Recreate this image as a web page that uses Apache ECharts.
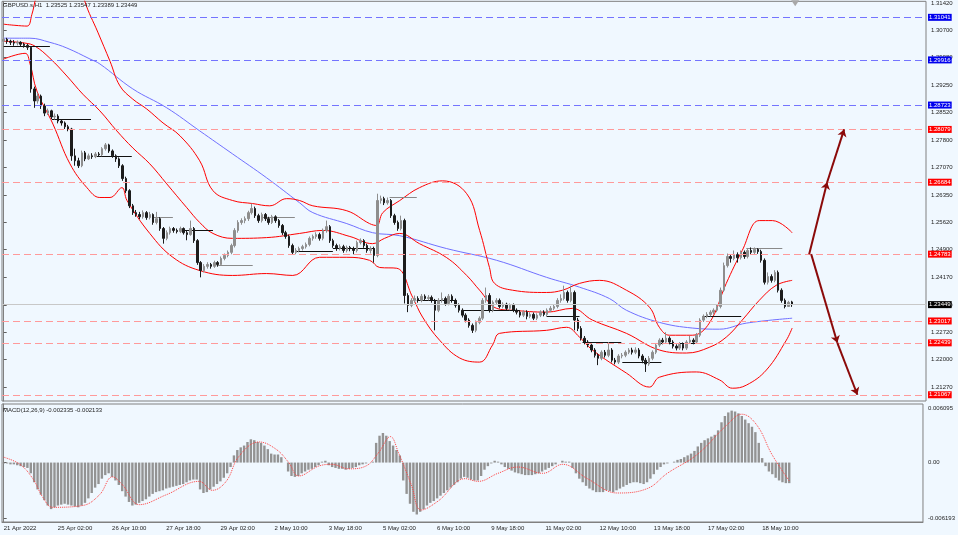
<!DOCTYPE html>
<html><head><meta charset="utf-8">
<script src="https://cdn.jsdelivr.net/npm/echarts@6/dist/echarts.min.js"></script>
<style>html,body{margin:0;padding:0;background:#f0f8ff;}#c{width:958px;height:535px;}</style>
</head><body><div id="c"></div>
<script>
// ---------- data ----------
const SLOTS = 272; // 2-hour bar slots across the window (incl. right shift)
const xTickLabels = ['21 Apr 2022','25 Apr 02:00','26 Apr 10:00','27 Apr 18:00','29 Apr 02:00','2 May 10:00','3 May 18:00','5 May 02:00','6 May 10:00','9 May 18:00','11 May 02:00','12 May 10:00','13 May 18:00','17 May 02:00','18 May 10:00'];
const priceTicks = [1.3142,1.3070,1.2998,1.2925,1.2852,1.2780,1.2707,1.2635,1.2562,1.2490,1.2417,1.2344,1.2272,1.2200,1.2127];
const macdTicks = [0.006095, 0, -0.006193];
const blueLevels = [1.31041, 1.29916, 1.28723];
const redLevels = [1.28079, 1.26684, 1.24783, 1.23017, 1.22439, 1.21067];
const lastPrice = 1.23449;
const headerText = 'GBPUSD.s,H1  1.23525 1.23547 1.23389 1.23449';
const macdText = 'MACD(12,26,9) -0.002335 -0.002133';

// [open, close, low, high] per 2-hour bar
const ohlc = [
[1.3041,1.3046,1.3036,1.3054],[1.3046,1.3041,1.3034,1.3050],[1.3041,1.3038,1.3031,1.3045],[1.3038,1.3036,1.3029,1.3044],[1.3036,1.3038,1.3030,1.3043],[1.3038,1.3033,1.3027,1.3041],[1.3033,1.3030,1.3024,1.3037],[1.3030,1.3025,1.3018,1.3034],[1.3025,1.2915,1.2905,1.3028],[1.2915,1.2883,1.2865,1.2921],
[1.2883,1.2896,1.2876,1.2905],[1.2896,1.2870,1.2862,1.2900],[1.2870,1.2851,1.2843,1.2876],[1.2851,1.2857,1.2846,1.2863],[1.2857,1.2841,1.2835,1.2860],[1.2841,1.2843,1.2834,1.2850],[1.2843,1.2830,1.2824,1.2848],[1.2830,1.2825,1.2818,1.2834],[1.2825,1.2815,1.2809,1.2829],[1.2815,1.2809,1.2803,1.2820],
[1.2809,1.2738,1.2725,1.2812],[1.2738,1.2725,1.2712,1.2757],[1.2725,1.2712,1.2706,1.2733],[1.2712,1.2746,1.2708,1.2752],[1.2746,1.2730,1.2724,1.2751],[1.2730,1.2738,1.2727,1.2744],[1.2738,1.2736,1.2730,1.2745],[1.2736,1.2743,1.2732,1.2748],[1.2743,1.2741,1.2735,1.2748],[1.2741,1.2757,1.2737,1.2761],
[1.2757,1.2767,1.2752,1.2772],[1.2767,1.2751,1.2746,1.2770],[1.2751,1.2738,1.2733,1.2755],[1.2738,1.2730,1.2722,1.2742],[1.2730,1.2712,1.2706,1.2734],[1.2712,1.2678,1.2672,1.2716],[1.2678,1.2646,1.2640,1.2683],[1.2646,1.2606,1.2600,1.2650],[1.2606,1.2588,1.2582,1.2611],[1.2588,1.2583,1.2577,1.2595],
[1.2583,1.2577,1.2571,1.2590],[1.2577,1.2588,1.2572,1.2594],[1.2588,1.2575,1.2569,1.2592],[1.2575,1.2583,1.2570,1.2590],[1.2583,1.2562,1.2556,1.2586],[1.2562,1.2572,1.2557,1.2590],[1.2572,1.2546,1.2540,1.2576],[1.2546,1.2520,1.2506,1.2550],[1.2520,1.2535,1.2515,1.2541],[1.2535,1.2546,1.2530,1.2551],
[1.2546,1.2541,1.2535,1.2550],[1.2541,1.2538,1.2533,1.2546],[1.2538,1.2546,1.2534,1.2551],[1.2546,1.2535,1.2530,1.2549],[1.2535,1.2530,1.2515,1.2540],[1.2530,1.2546,1.2527,1.2567],[1.2546,1.2514,1.2508,1.2550],[1.2514,1.2456,1.2450,1.2518],[1.2456,1.2435,1.2417,1.2460],[1.2435,1.2446,1.2430,1.2452],
[1.2446,1.2451,1.2440,1.2457],[1.2451,1.2446,1.2440,1.2455],[1.2446,1.2456,1.2442,1.2461],[1.2456,1.2451,1.2445,1.2460],[1.2451,1.2467,1.2447,1.2472],[1.2467,1.2475,1.2462,1.2480],[1.2475,1.2483,1.2470,1.2488],[1.2483,1.2501,1.2478,1.2506],[1.2501,1.2541,1.2496,1.2547],[1.2541,1.2562,1.2535,1.2568],
[1.2562,1.2567,1.2556,1.2573],[1.2567,1.2572,1.2560,1.2578],[1.2572,1.2588,1.2566,1.2593],[1.2588,1.2599,1.2583,1.2612],[1.2599,1.2580,1.2574,1.2604],[1.2580,1.2567,1.2561,1.2585],[1.2567,1.2583,1.2562,1.2588],[1.2583,1.2572,1.2566,1.2587],[1.2572,1.2562,1.2556,1.2577],[1.2562,1.2577,1.2558,1.2582],
[1.2577,1.2567,1.2561,1.2581],[1.2567,1.2554,1.2548,1.2571],[1.2554,1.2535,1.2529,1.2558],[1.2535,1.2525,1.2519,1.2540],[1.2525,1.2501,1.2495,1.2530],[1.2501,1.2483,1.2477,1.2506],[1.2483,1.2488,1.2478,1.2494],[1.2488,1.2493,1.2483,1.2498],[1.2493,1.2498,1.2488,1.2503],[1.2498,1.2504,1.2493,1.2509],
[1.2504,1.2520,1.2499,1.2525],[1.2520,1.2525,1.2514,1.2530],[1.2525,1.2530,1.2519,1.2536],[1.2530,1.2520,1.2514,1.2535],[1.2520,1.2541,1.2515,1.2546],[1.2541,1.2551,1.2535,1.2567],[1.2551,1.2514,1.2508,1.2555],[1.2514,1.2501,1.2495,1.2519],[1.2501,1.2493,1.2487,1.2506],[1.2493,1.2498,1.2488,1.2504],
[1.2498,1.2488,1.2482,1.2503],[1.2488,1.2496,1.2483,1.2501],[1.2496,1.2493,1.2486,1.2500],[1.2493,1.2488,1.2478,1.2498],[1.2488,1.2509,1.2483,1.2514],[1.2509,1.2514,1.2504,1.2520],[1.2514,1.2501,1.2495,1.2518],[1.2501,1.2488,1.2482,1.2506],[1.2488,1.2493,1.2480,1.2499],[1.2493,1.2475,1.2456,1.2498],
[1.2475,1.2620,1.2470,1.2638],[1.2620,1.2625,1.2612,1.2633],[1.2625,1.2614,1.2608,1.2630],[1.2614,1.2620,1.2609,1.2628],[1.2620,1.2580,1.2574,1.2624],[1.2580,1.2562,1.2556,1.2585],[1.2562,1.2546,1.2540,1.2567],[1.2546,1.2567,1.2541,1.2580],[1.2567,1.2369,1.2348,1.2572],[1.2369,1.2343,1.2325,1.2375],
[1.2343,1.2356,1.2338,1.2362],[1.2356,1.2361,1.2350,1.2369],[1.2361,1.2356,1.2350,1.2367],[1.2356,1.2367,1.2351,1.2373],[1.2367,1.2361,1.2355,1.2372],[1.2361,1.2364,1.2356,1.2370],[1.2364,1.2356,1.2350,1.2369],[1.2356,1.2330,1.2277,1.2360],[1.2330,1.2356,1.2325,1.2362],[1.2356,1.2361,1.2350,1.2377],
[1.2361,1.2348,1.2342,1.2366],[1.2348,1.2367,1.2343,1.2373],[1.2367,1.2356,1.2350,1.2372],[1.2356,1.2343,1.2337,1.2361],[1.2343,1.2330,1.2324,1.2348],[1.2330,1.2317,1.2311,1.2335],[1.2317,1.2304,1.2298,1.2322],[1.2304,1.2290,1.2284,1.2309],[1.2290,1.2277,1.2270,1.2295],[1.2277,1.2298,1.2272,1.2303],
[1.2298,1.2309,1.2293,1.2314],[1.2309,1.2356,1.2304,1.2362],[1.2356,1.2369,1.2350,1.2390],[1.2369,1.2330,1.2324,1.2375],[1.2330,1.2351,1.2325,1.2356],[1.2351,1.2356,1.2346,1.2362],[1.2356,1.2340,1.2335,1.2361],[1.2340,1.2346,1.2335,1.2351],[1.2346,1.2335,1.2330,1.2350],[1.2335,1.2343,1.2330,1.2348],
[1.2343,1.2330,1.2325,1.2348],[1.2330,1.2325,1.2319,1.2335],[1.2325,1.2317,1.2311,1.2330],[1.2317,1.2325,1.2312,1.2330],[1.2325,1.2314,1.2306,1.2330],[1.2314,1.2319,1.2309,1.2325],[1.2319,1.2309,1.2304,1.2324],[1.2309,1.2317,1.2304,1.2322],[1.2317,1.2325,1.2312,1.2330],[1.2325,1.2319,1.2314,1.2330],
[1.2319,1.2330,1.2314,1.2335],[1.2330,1.2335,1.2325,1.2341],[1.2335,1.2340,1.2330,1.2346],[1.2340,1.2356,1.2335,1.2362],[1.2356,1.2361,1.2350,1.2372],[1.2361,1.2377,1.2356,1.2395],[1.2377,1.2356,1.2350,1.2382],[1.2356,1.2377,1.2351,1.2395],[1.2377,1.2304,1.2277,1.2382],[1.2304,1.2282,1.2275,1.2310],
[1.2282,1.2256,1.2250,1.2288],[1.2256,1.2246,1.2240,1.2262],[1.2246,1.2238,1.2232,1.2251],[1.2238,1.2225,1.2219,1.2243],[1.2225,1.2211,1.2205,1.2230],[1.2211,1.2203,1.2185,1.2216],[1.2203,1.2219,1.2198,1.2224],[1.2219,1.2211,1.2205,1.2225],[1.2211,1.2225,1.2206,1.2246],[1.2225,1.2198,1.2192,1.2230],
[1.2198,1.2193,1.2187,1.2204],[1.2193,1.2209,1.2188,1.2214],[1.2209,1.2211,1.2203,1.2217],[1.2211,1.2219,1.2206,1.2224],[1.2219,1.2225,1.2214,1.2230],[1.2225,1.2219,1.2213,1.2231],[1.2219,1.2225,1.2214,1.2232],[1.2225,1.2209,1.2203,1.2230],[1.2209,1.2198,1.2190,1.2214],[1.2198,1.2188,1.2167,1.2204],
[1.2188,1.2203,1.2183,1.2209],[1.2203,1.2219,1.2198,1.2224],[1.2219,1.2238,1.2214,1.2243],[1.2238,1.2251,1.2233,1.2256],[1.2251,1.2246,1.2240,1.2257],[1.2246,1.2256,1.2241,1.2272],[1.2256,1.2246,1.2240,1.2261],[1.2246,1.2235,1.2229,1.2251],[1.2235,1.2230,1.2224,1.2240],[1.2230,1.2240,1.2225,1.2246],
[1.2240,1.2230,1.2224,1.2245],[1.2230,1.2246,1.2225,1.2251],[1.2246,1.2251,1.2241,1.2262],[1.2251,1.2246,1.2240,1.2256],[1.2246,1.2264,1.2241,1.2270],[1.2264,1.2304,1.2259,1.2309],[1.2304,1.2314,1.2299,1.2319],[1.2314,1.2319,1.2309,1.2325],[1.2319,1.2325,1.2314,1.2330],[1.2325,1.2330,1.2319,1.2335],
[1.2330,1.2340,1.2325,1.2346],[1.2340,1.2383,1.2335,1.2390],[1.2383,1.2448,1.2378,1.2456],[1.2448,1.2472,1.2443,1.2480],[1.2472,1.2467,1.2456,1.2478],[1.2467,1.2477,1.2462,1.2488],[1.2477,1.2469,1.2456,1.2483],[1.2469,1.2483,1.2464,1.2488],[1.2483,1.2472,1.2466,1.2488],[1.2472,1.2488,1.2467,1.2493],
[1.2488,1.2483,1.2477,1.2496],[1.2483,1.2491,1.2478,1.2496],[1.2491,1.2485,1.2479,1.2494],[1.2485,1.2462,1.2456,1.2490],[1.2462,1.2404,1.2398,1.2467],[1.2404,1.2419,1.2398,1.2430],[1.2419,1.2409,1.2403,1.2425],[1.2409,1.2430,1.2404,1.2436],[1.2430,1.2383,1.2377,1.2435],[1.2383,1.2356,1.2350,1.2388],
[1.2356,1.2340,1.2335,1.2361],[1.2340,1.2351,1.2339,1.2355],[1.2352,1.2345,1.2339,1.2355]
];

// MACD main (histogram), one per bar
const macdHist = [
-0.0001,-0.0001,-0.0002,-0.0002,-0.0003,-0.0004,-0.0005,-0.0006,-0.0012,-0.0022,
-0.0030,-0.0036,-0.0042,-0.0048,-0.0052,-0.0050,-0.0048,-0.0047,-0.0046,-0.0047,
-0.0048,-0.0049,-0.0050,-0.0048,-0.0045,-0.0040,-0.0034,-0.0028,-0.0024,-0.0018,
-0.0014,-0.0012,-0.0016,-0.0020,-0.0025,-0.0032,-0.0038,-0.0044,-0.0048,-0.0047,
-0.0045,-0.0043,-0.0041,-0.0038,-0.0035,-0.0033,-0.0032,-0.0031,-0.0029,-0.0028,
-0.0027,-0.0026,-0.0025,-0.0024,-0.0022,-0.0020,-0.0019,-0.0019,-0.0030,-0.0034,
-0.0033,-0.0030,-0.0027,-0.0024,-0.0021,-0.0017,-0.0012,-0.0005,0.0008,0.0014,
0.0017,0.0019,0.0023,0.0026,0.0025,0.0023,0.0022,0.0019,0.0015,0.0010,
0.0009,0.0009,0.0006,0.0000,-0.0010,-0.0015,-0.0016,-0.0015,-0.0012,-0.0010,
-0.0008,-0.0007,-0.0005,-0.0003,0.0001,0.0002,-0.0003,-0.0005,-0.0006,-0.0007,
-0.0007,-0.0008,-0.0007,-0.0006,-0.0005,-0.0003,-0.0002,-0.0001,0.0000,0.0001,
0.0022,0.0030,0.0033,0.0030,0.0024,0.0019,0.0014,0.0008,-0.0020,-0.0035,
-0.0046,-0.0055,-0.0058,-0.0055,-0.0052,-0.0048,-0.0045,-0.0043,-0.0040,-0.0037,
-0.0034,-0.0031,-0.0028,-0.0025,-0.0022,-0.0018,-0.0016,-0.0017,-0.0019,-0.0020,
-0.0020,-0.0015,-0.0008,-0.0004,-0.0001,0.0002,0.0001,-0.0002,-0.0005,-0.0007,
-0.0009,-0.0011,-0.0012,-0.0013,-0.0014,-0.0014,-0.0014,-0.0013,-0.0012,-0.0010,
-0.0008,-0.0006,-0.0004,-0.0002,0.0000,0.0002,0.0001,0.0001,-0.0006,-0.0012,
-0.0018,-0.0022,-0.0026,-0.0029,-0.0031,-0.0033,-0.0033,-0.0033,-0.0031,-0.0032,
-0.0033,-0.0031,-0.0029,-0.0027,-0.0025,-0.0023,-0.0022,-0.0022,-0.0023,-0.0024,
-0.0022,-0.0018,-0.0013,-0.0008,-0.0005,-0.0002,-0.0001,0.0000,0.0001,0.0003,
0.0004,0.0006,0.0008,0.0010,0.0013,0.0018,0.0022,0.0025,0.0027,0.0029,
0.0031,0.0036,0.0045,0.0052,0.0056,0.0058,0.0057,0.0055,0.0052,0.0048,
0.0044,0.0040,0.0034,0.0022,0.0005,-0.0004,-0.0010,-0.0013,-0.0017,-0.0020,
-0.0022,-0.0023,-0.0023
];

// MACD signal line, [bar, value]
const macdSignal = [[0,0.0006],[4.8,-0.0002],[8.6,-0.0018],[11.6,-0.0039],[14.5,-0.0050],[23.3,-0.0048],[28.3,-0.0036],[32.1,-0.0016],[35.1,-0.0025],[40.1,-0.0047],[48,-0.0036],[57.7,-0.0021],[61.6,-0.0031],[65.7,-0.0021],[69.5,0.0007],[75.4,0.0023],[80.4,0.0015],[84.2,0.0000],[87.1,-0.0015],[93,-0.0004],[96.9,-0.0002],[101.9,-0.0007],[106.9,-0.0004],[110.7,0.0011],[114.2,0.0029],[116.6,0.0011],[120.4,-0.0025],[123.3,-0.0053],[128.3,-0.0043],[136.3,-0.0018],[140.1,-0.0021],[146,-0.0012],[151.9,-0.0005],[159.2,-0.0012],[165.1,-0.0002],[172.4,-0.0018],[181.3,-0.0034],[190.1,-0.0029],[196,-0.0012],[204.8,0.0009],[213.6,0.0042],[218,0.0054],[222.4,0.0042],[226.9,0.0009],[232.1,-0.0021]];

// Bollinger bands and moving average, [bar, price]
const bbUpper = [[0,1.3086],[3.3,1.3083],[6.9,1.3081],[8.3,1.3112],[9.2,1.3146],[12.1,1.3252],[16.6,1.3331],[21,1.3252],[23.9,1.3146],[27.7,1.3065],[31.3,1.2988],[34.2,1.2923],[38,1.2888],[42.1,1.2862],[46.9,1.2825],[51.9,1.2791],[57.7,1.2725],[61.6,1.2646],[67.4,1.2620],[73.3,1.2612],[78.3,1.2606],[83.3,1.2625],[87.1,1.2620],[91,1.2606],[101,1.2593],[107.7,1.2559],[109.8,1.2554],[111.6,1.2588],[116.6,1.2620],[122.4,1.2654],[129.2,1.2672],[136.3,1.2638],[140.1,1.2541],[143,1.2443],[144.5,1.2401],[149.8,1.2383],[159.8,1.2377],[164.5,1.2383],[169.5,1.2401],[175.4,1.2409],[183.3,1.2383],[190.1,1.2338],[193,1.2285],[196,1.2264],[202.7,1.2264],[207.7,1.2296],[212.7,1.2401],[217.4,1.2488],[222.4,1.2567],[226.3,1.2567],[232.1,1.2535]];
const bbMiddle = [[0,1.3041],[6.3,1.3036],[9.2,1.3028],[13.6,1.2996],[18.6,1.2949],[23.3,1.2901],[28.3,1.2857],[33.3,1.2804],[38,1.2759],[43,1.2717],[48,1.2664],[53.9,1.2601],[57.7,1.2562],[61.6,1.2533],[67.4,1.2520],[77.4,1.2522],[87.1,1.2533],[93.9,1.2541],[101.9,1.2525],[108.6,1.2506],[112.1,1.2520],[116.6,1.2533],[122.4,1.2506],[130.4,1.2469],[136.3,1.2422],[140.1,1.2383],[145.1,1.2335],[149.8,1.2330],[159.8,1.2325],[167.4,1.2335],[173.3,1.2304],[183.3,1.2269],[193,1.2225],[201,1.2217],[207.7,1.2232],[212.7,1.2259],[217.4,1.2304],[222.4,1.2356],[227.4,1.2396],[232.1,1.2409]];
const bbLower = [[0,1.2994],[6.3,1.3009],[7.7,1.2983],[9.8,1.2909],[14.5,1.2822],[19.5,1.2717],[24.5,1.2654],[28.3,1.2628],[31.3,1.2628],[34.8,1.2654],[36.3,1.2620],[43,1.2533],[49.8,1.2470],[57.7,1.2435],[67.4,1.2422],[77.4,1.2427],[85.1,1.2422],[93,1.2470],[101,1.2470],[107.7,1.2462],[110.7,1.2443],[115.7,1.2441],[120.4,1.2364],[123.3,1.2312],[128.3,1.2251],[134.2,1.2204],[140.1,1.2193],[143.9,1.2238],[146,1.2269],[159.8,1.2277],[165.7,1.2285],[169.5,1.2259],[173.3,1.2225],[183.3,1.2164],[190.1,1.2127],[193,1.2153],[203.9,1.2167],[210.7,1.2146],[214.5,1.2124],[218.6,1.2132],[224.5,1.2172],[230.4,1.2251],[232.1,1.2283]];
const maSlow = [[0,1.3049],[7.7,1.3049],[13.6,1.3038],[18.6,1.3023],[25.4,1.2994],[28.3,1.2981],[38,1.2915],[48,1.2865],[57.7,1.2804],[67.4,1.2743],[77.4,1.2680],[87.1,1.2614],[91,1.2588],[101,1.2559],[108.6,1.2535],[116.6,1.2527],[130.4,1.2493],[145.1,1.2462],[159.8,1.2417],[169.5,1.2391],[178.3,1.2361],[183.3,1.2330],[193,1.2298],[202.7,1.2283],[210.7,1.2280],[218.6,1.2296],[232.1,1.2309]];

// daily reference segments: [fromBar, toBar, price]
const dailySegments = [[0,13.6,1.3028],[14.2,25.7,1.2836],[27.4,37.7,1.2738],[43.9,49.8,1.2577],[51.9,61.6,1.2541],[62.7,73.3,1.2448],[76.3,85.7,1.2577],[86.3,96.9,1.2485],[96.9,109.2,1.2493],[113.6,121.6,1.2628],[121.6,133.3,1.2356],[135.1,151.9,1.2330],[159.8,169.5,1.2314],[170.4,181.8,1.2246],[182.1,193.6,1.2193],[193,205.4,1.2243],[205.7,217.1,1.2314],[218.6,229.2,1.2493]];
const greySegments = [3,5,6,9,17];

// projection arrows: [fromBar, fromPrice, toBar, toPrice]
const arrowLegs = [[237.1,1.24783,242.4,1.26684],[242.4,1.26684,247.4,1.28079],[237.7,1.24783,245.4,1.22439],[245.4,1.22439,251.3,1.21067]];

// chart-shift marker position (last bar)
const shiftMarkerBar = 233;

// ---------- chart ----------
const FONT = 'Liberation Sans';
const TXT = '#1e1e1e';
const cats = Array.from({length: SLOTS}, (_, i) => String(i));
const isTick = (i) => i % 16 === 0 && i / 16 < xTickLabels.length;

function levelLine(v, lineColor, boxColor, dashed) {
  return {
    yAxis: v,
    lineStyle: {color: lineColor, type: dashed ? [7, 4] : 'solid', width: 1},
    label: {show: true, position: 'end', distance: 2, formatter: v.toFixed(5),
      backgroundColor: boxColor, color: '#ffffff', padding: [1, 1, 0, 1],
      fontSize: 6, fontFamily: FONT}
  };
}

const levelData = [
  ...blueLevels.map(v => levelLine(v, '#7474ff', '#0000ee', true)),
  ...redLevels.map(v => levelLine(v, '#ff9a9a', '#ff0000', true)),
  levelLine(lastPrice, '#c8c8c8', '#000000', false)
];

const option = {
  animation: false,
  backgroundColor: '#f0f8ff',
  textStyle: {fontFamily: FONT},
  grid: [
    {left: 2, right: 32, top: 0, height: 401, show: true, borderColor: '#808080', borderWidth: 1, backgroundColor: 'transparent'},
    {left: 2, right: 32, top: 404, height: 118, show: true, borderColor: '#808080', borderWidth: 1, backgroundColor: 'transparent'}
  ],
  xAxis: [
    {type: 'category', gridIndex: 0, data: cats, boundaryGap: true, show: false},
    {type: 'value', gridIndex: 0, min: -0.5, max: SLOTS - 0.5, show: false},
    {type: 'category', gridIndex: 1, data: cats, boundaryGap: true,
      axisLine: {onZero: false, lineStyle: {color: '#808080'}},
      axisTick: {interval: (i) => isTick(i), length: 3, lineStyle: {color: '#606060'}},
      axisLabel: {interval: (i) => isTick(i), formatter: (v, i) => xTickLabels[Math.round(Number(v) / 16)] || '',
        align: 'left', fontSize: 6, color: TXT, margin: 3, fontFamily: FONT},
      splitLine: {show: false}},
    {type: 'value', gridIndex: 1, min: -0.5, max: SLOTS - 0.5, show: false}
  ],
  yAxis: [
    {type: 'value', gridIndex: 0, position: 'right', min: 1.20902, max: 1.31464,
      axisLine: {show: true, lineStyle: {color: '#808080'}},
      axisTick: {show: true, customValues: priceTicks, length: 3, lineStyle: {color: '#606060'}},
      axisLabel: {customValues: priceTicks, formatter: (v) => Number(v).toFixed(5), fontSize: 6, color: TXT, margin: 5, fontFamily: FONT},
      splitLine: {show: false}},
    {type: 'value', gridIndex: 1, position: 'right', min: -0.00664, max: 0.006542,
      axisLine: {show: true, lineStyle: {color: '#808080'}},
      axisTick: {show: true, customValues: macdTicks, length: 3, lineStyle: {color: '#606060'}},
      axisLabel: {customValues: macdTicks, formatter: (v) => (v === 0 ? '0.00' : Number(v).toFixed(6)), fontSize: 6, color: TXT, margin: 5, fontFamily: FONT},
      splitLine: {show: false}}
  ],
  graphic: [
    {type: 'text', left: 3, top: 2, z: 100, style: {text: headerText, font: '6px "Liberation Sans"', fill: TXT}},
    {type: 'text', left: 3, top: 407, z: 100, style: {text: macdText, font: '6px "Liberation Sans"', fill: TXT}}
  ],
  series: [
    {type: 'line', name: 'ma', xAxisIndex: 1, yAxisIndex: 0, data: maSlow, smooth: 0.4, symbol: 'none',
      lineStyle: {color: '#7070ff', width: 1}, z: 3,
      markLine: {silent: true, precision: 5, symbol: ['none', 'none'], data: levelData, z: 5},
      markPoint: {silent: true, data: [{coord: [shiftMarkerBar, 1.31464], symbol: 'triangle', symbolRotate: 180,
        symbolSize: [8, 6], symbolOffset: [0, 2], itemStyle: {color: '#a8a8a8'}, label: {show: false}}]}},
    {type: 'line', name: 'bbU', xAxisIndex: 1, yAxisIndex: 0, data: bbUpper, smooth: 0.4, symbol: 'none', lineStyle: {color: '#ff0000', width: 1}, z: 3},
    {type: 'line', name: 'bbM', xAxisIndex: 1, yAxisIndex: 0, data: bbMiddle, smooth: 0.4, symbol: 'none', lineStyle: {color: '#ff0000', width: 1}, z: 3},
    {type: 'line', name: 'bbL', xAxisIndex: 1, yAxisIndex: 0, data: bbLower, smooth: 0.4, symbol: 'none', lineStyle: {color: '#ff0000', width: 1}, z: 3},
    {type: 'lines', coordinateSystem: 'cartesian2d', xAxisIndex: 1, yAxisIndex: 0, z: 4,
      lineStyle: {width: 1.2, color: '#111111', opacity: 1},
      data: dailySegments.map((d, k) => ({coords: [[d[0], d[2]], [d[1], d[2]]],
        lineStyle: {color: greySegments.includes(k) ? '#8a8a8a' : '#111111'}}))},
    {type: 'candlestick', xAxisIndex: 0, yAxisIndex: 0, data: ohlc, barWidth: 2, z: 4,
      itemStyle: {color: '#8e8e8e', color0: '#1c1c1c', borderColor: '#8e8e8e', borderColor0: '#1c1c1c', borderWidth: 1}},
    {type: 'lines', coordinateSystem: 'cartesian2d', xAxisIndex: 1, yAxisIndex: 0, z: 6,
      symbol: ['none', 'arrow'], symbolSize: 7,
      lineStyle: {width: 2, color: '#8b0a0a', opacity: 1},
      data: arrowLegs.map(a => ({coords: [[a[0], a[1]], [a[2], a[3]]]}))},
    {type: 'bar', xAxisIndex: 2, yAxisIndex: 1, data: macdHist, barWidth: 2.4,
      itemStyle: {color: '#939393'}},
    {type: 'line', xAxisIndex: 3, yAxisIndex: 1, data: macdSignal, smooth: 0.4, symbol: 'none',
      lineStyle: {color: '#ff4040', width: 1, type: 'dotted'}}
  ]
};

const chart = echarts.init(document.getElementById('c'), null, {renderer: 'canvas'});
chart.setOption(option);
</script>
</body></html>
